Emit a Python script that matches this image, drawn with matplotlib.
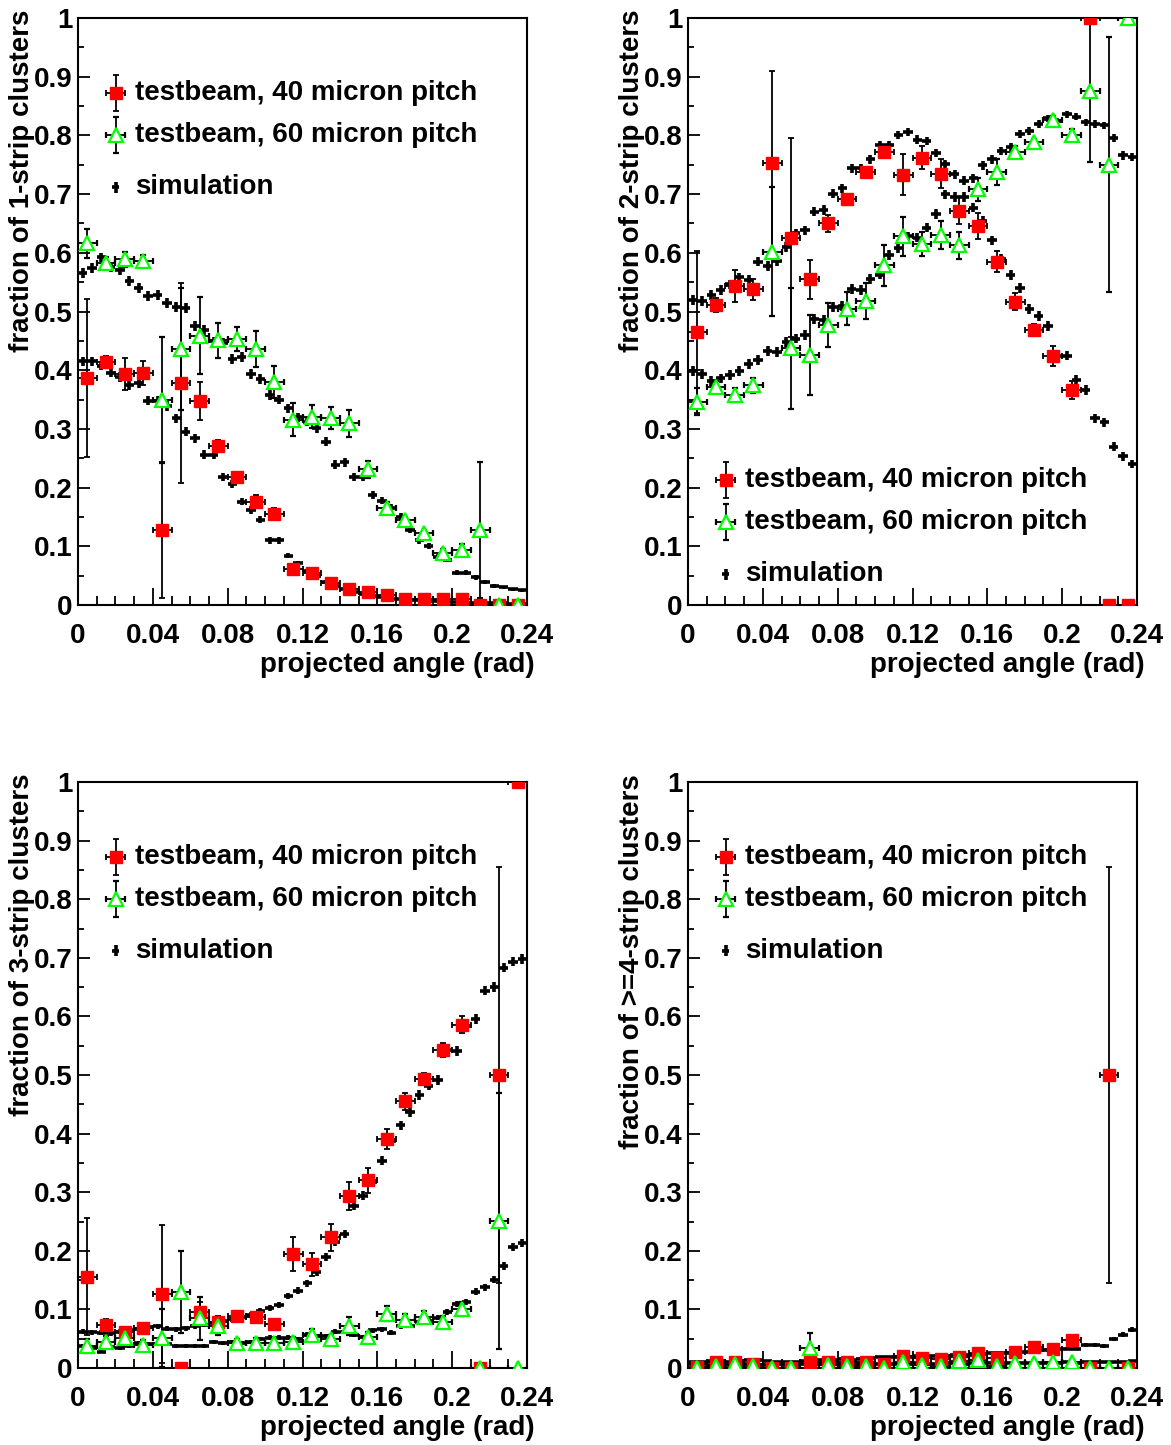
import numpy as np
import matplotlib
matplotlib.use("Agg")
import matplotlib.pyplot as plt
from matplotlib.ticker import FixedLocator, MultipleLocator

plt.rcParams['font.family'] = ['Liberation Sans', 'DejaVu Sans']
plt.rcParams['font.weight'] = 'bold'

# ---------------- data ----------------
TB_WIDTH = 0.01      # testbeam bin width (rad)
SIM_WIDTH = 0.005    # simulation bin width (rad)
tb_x = np.arange(24) * TB_WIDTH + TB_WIDTH / 2
sim_x = np.arange(48) * SIM_WIDTH + SIM_WIDTH / 2
SIM_EVENTS_PER_BIN = 3500

x_tick_values = [0, 0.04, 0.08, 0.12, 0.16, 0.20, 0.24]
x_tick_labels = ["0", "0.04", "0.08", "0.12", "0.16", "0.2", "0.24"]
y_tick_values = [0, 0.1, 0.2, 0.3, 0.4, 0.5, 0.6, 0.7, 0.8, 0.9, 1.0]
y_tick_labels = ["0", "0.1", "0.2", "0.3", "0.4", "0.5", "0.6", "0.7", "0.8", "0.9", "1"]

y_titles = ["fraction of 1-strip clusters", "fraction of 2-strip clusters",
            "fraction of 3-strip clusters", "fraction of >=4-strip clusters"]
x_title = "projected angle (rad)"
legend_labels = ["testbeam, 40 micron pitch", "testbeam, 60 micron pitch", "simulation"]

# 1-strip
tb40_1 = [0.387, 0.414, 0.393, 0.395, 0.128, 0.378, 0.348, 0.271, 0.218, 0.176, 0.155, 0.062,
          0.055, 0.037, 0.027, 0.022, 0.017, 0.010, 0.010, 0.010, 0.010, 0.0, 0.0, 0.0]
tb40_1_err = [0.135, 0.010, 0.027, 0.020, 0.116, 0.170, 0.032, 0.010, 0.006, 0.011, 0.011, 0.007,
              0.005, 0.004, 0.004, 0.003, 0.003, 0.002, 0.002, 0.002, 0.002, 0.0, 0.0, 0.0]
tb60_1 = [0.616, 0.582, 0.589, 0.586, 0.349, 0.436, 0.459, 0.451, 0.453, 0.436, 0.380, 0.316,
          0.321, 0.318, 0.310, 0.231, 0.166, 0.144, 0.122, 0.088, 0.094, 0.128, 0.0, 0.0]
tb60_1_err = [0.025, 0.010, 0.013, 0.010, 0.107, 0.104, 0.065, 0.030, 0.020, 0.031, 0.028, 0.028,
              0.019, 0.019, 0.023, 0.015, 0.010, 0.006, 0.005, 0.008, 0.010, 0.116, 0.0, 0.0]
sim40_1 = [0.415, 0.415, 0.408, 0.396, 0.388, 0.375, 0.378, 0.348, 0.348, 0.339, 0.318, 0.295,
           0.284, 0.256, 0.256, 0.218, 0.206, 0.176, 0.162, 0.145, 0.110, 0.110, 0.084, 0.071,
           0.058, 0.050, 0.040, 0.033, 0.027, 0.022, 0.018, 0.015, 0.013, 0.011, 0.010, 0.009,
           0.008, 0.007, 0.006, 0.005, 0.005, 0.004, 0.004, 0.003, 0.003, 0.003, 0.002, 0.002]
sim60_1 = [0.565, 0.574, 0.592, 0.576, 0.570, 0.552, 0.540, 0.526, 0.528, 0.514, 0.508, 0.506,
           0.475, 0.469, 0.449, 0.446, 0.419, 0.423, 0.394, 0.385, 0.358, 0.350, 0.335, 0.320,
           0.312, 0.301, 0.278, 0.239, 0.243, 0.218, 0.218, 0.187, 0.178, 0.165, 0.150, 0.128,
           0.110, 0.101, 0.082, 0.077, 0.055, 0.055, 0.047, 0.039, 0.032, 0.030, 0.027, 0.025]

# 2-strip
tb40_2 = [0.465, 0.511, 0.544, 0.538, 0.753, 0.626, 0.555, 0.650, 0.692, 0.737, 0.772, 0.733,
          0.762, 0.735, 0.672, 0.646, 0.585, 0.517, 0.469, 0.424, 0.366, 1.0, 0.0, 0.0]
tb40_2_err = [0.138, 0.012, 0.027, 0.018, 0.156, 0.170, 0.033, 0.015, 0.008, 0.010, 0.010, 0.035,
              0.020, 0.025, 0.023, 0.022, 0.018, 0.015, 0.010, 0.017, 0.015, 0.0, 0.0, 0.0]
tb60_2 = [0.346, 0.372, 0.357, 0.374, 0.602, 0.437, 0.426, 0.477, 0.505, 0.518, 0.579, 0.628,
          0.615, 0.631, 0.613, 0.708, 0.737, 0.772, 0.788, 0.827, 0.801, 0.875, 0.750, 1.0]
tb60_2_err = [0.023, 0.010, 0.012, 0.012, 0.110, 0.103, 0.068, 0.037, 0.028, 0.030, 0.035, 0.033,
              0.020, 0.024, 0.023, 0.020, 0.022, 0.010, 0.006, 0.006, 0.010, 0.120, 0.217, 0.0]
sim40_2 = [0.520, 0.518, 0.528, 0.537, 0.546, 0.558, 0.554, 0.585, 0.578, 0.586, 0.610, 0.633,
           0.638, 0.670, 0.673, 0.701, 0.710, 0.744, 0.744, 0.759, 0.784, 0.784, 0.800, 0.806,
           0.793, 0.790, 0.770, 0.751, 0.734, 0.723, 0.677, 0.655, 0.621, 0.589, 0.562, 0.540,
           0.505, 0.492, 0.475, 0.425, 0.425, 0.383, 0.366, 0.318, 0.311, 0.270, 0.253, 0.240]
sim60_2 = [0.399, 0.393, 0.382, 0.386, 0.392, 0.399, 0.410, 0.417, 0.433, 0.431, 0.448, 0.454,
           0.460, 0.488, 0.486, 0.508, 0.509, 0.538, 0.537, 0.555, 0.563, 0.596, 0.608, 0.628,
           0.626, 0.643, 0.666, 0.700, 0.695, 0.695, 0.727, 0.749, 0.759, 0.773, 0.780, 0.802,
           0.808, 0.819, 0.829, 0.824, 0.836, 0.832, 0.822, 0.819, 0.817, 0.795, 0.766, 0.763]

# 3-strip
tb40_3 = [0.156, 0.073, 0.062, 0.069, 0.126, 0.0, 0.095, 0.078, 0.088, 0.087, 0.075, 0.194,
          0.177, 0.223, 0.294, 0.320, 0.391, 0.455, 0.493, 0.542, 0.586, 0.0, 0.5, 1.0]
tb40_3_err = [0.100, 0.010, 0.008, 0.006, 0.118, 0.0, 0.018, 0.010, 0.005, 0.005, 0.008, 0.029,
              0.020, 0.023, 0.024, 0.021, 0.017, 0.015, 0.010, 0.012, 0.015, 0.0, 0.355, 0.0]
tb60_3 = [0.038, 0.045, 0.052, 0.040, 0.051, 0.130, 0.085, 0.072, 0.042, 0.043, 0.043, 0.045,
          0.057, 0.049, 0.072, 0.053, 0.093, 0.082, 0.087, 0.078, 0.100, 0.0, 0.251, 0.0]
tb60_3_err = [0.012, 0.010, 0.015, 0.008, 0.050, 0.070, 0.037, 0.015, 0.008, 0.008, 0.008, 0.008,
              0.010, 0.008, 0.015, 0.008, 0.012, 0.010, 0.010, 0.010, 0.012, 0.0, 0.218, 0.0]
sim40_3 = [0.062, 0.061, 0.060, 0.059, 0.062, 0.064, 0.066, 0.070, 0.071, 0.067, 0.066, 0.068,
           0.071, 0.074, 0.077, 0.080, 0.083, 0.087, 0.090, 0.098, 0.103, 0.108, 0.123, 0.132,
           0.145, 0.164, 0.189, 0.215, 0.229, 0.277, 0.294, 0.317, 0.354, 0.387, 0.414, 0.437,
           0.466, 0.482, 0.491, 0.543, 0.541, 0.584, 0.596, 0.644, 0.650, 0.683, 0.693, 0.698]
sim60_3 = [0.038, 0.034, 0.028, 0.036, 0.034, 0.038, 0.042, 0.041, 0.041, 0.041, 0.038, 0.038,
           0.038, 0.037, 0.045, 0.043, 0.045, 0.042, 0.045, 0.049, 0.052, 0.052, 0.052, 0.049,
           0.057, 0.055, 0.055, 0.062, 0.062, 0.057, 0.053, 0.064, 0.066, 0.060, 0.071, 0.072,
           0.078, 0.080, 0.086, 0.095, 0.109, 0.113, 0.130, 0.138, 0.151, 0.174, 0.207, 0.213]

# >=4-strip
tb40_4 = [0.002, 0.011, 0.011, 0.006, 0.0, 0.0, 0.010, 0.011, 0.011, 0.011, 0.007, 0.021,
          0.017, 0.015, 0.019, 0.025, 0.017, 0.028, 0.035, 0.032, 0.047, 0.0, 0.5, 0.0]
tb40_4_err = [0.003, 0.004, 0.004, 0.003, 0.0, 0.0, 0.005, 0.004, 0.004, 0.004, 0.003, 0.006,
              0.005, 0.004, 0.005, 0.005, 0.004, 0.005, 0.006, 0.006, 0.008, 0.0, 0.355, 0.0]
tb60_4 = [0.0, 0.003, 0.007, 0.003, 0.0, 0.0, 0.034, 0.005, 0.004, 0.004, 0.0, 0.010,
          0.005, 0.003, 0.012, 0.014, 0.003, 0.008, 0.009, 0.010, 0.010, 0.0, 0.0, 0.0]
tb60_4_err = [0.0, 0.003, 0.004, 0.003, 0.0, 0.0, 0.025, 0.004, 0.003, 0.003, 0.0, 0.004,
              0.003, 0.002, 0.004, 0.004, 0.002, 0.003, 0.003, 0.004, 0.004, 0.0, 0.0, 0.0]
sim40_4 = [0.010, 0.011, 0.012, 0.012, 0.011, 0.012, 0.013, 0.013, 0.012, 0.011, 0.010, 0.011,
           0.012, 0.013, 0.013, 0.014, 0.015, 0.014, 0.016, 0.017, 0.018, 0.018, 0.019, 0.019,
           0.020, 0.020, 0.021, 0.021, 0.022, 0.022, 0.023, 0.024, 0.025, 0.025, 0.026, 0.027,
           0.028, 0.030, 0.031, 0.032, 0.033, 0.033, 0.039, 0.039, 0.038, 0.049, 0.057, 0.065]
sim60_4 = [0.006, 0.006, 0.005, 0.006, 0.005, 0.005, 0.006, 0.005, 0.005, 0.006, 0.005, 0.005,
           0.006, 0.006, 0.006, 0.007, 0.006, 0.006, 0.007, 0.007, 0.006, 0.007, 0.007, 0.007,
           0.008, 0.007, 0.007, 0.008, 0.008, 0.007, 0.008, 0.008, 0.008, 0.009, 0.008, 0.008,
           0.009, 0.009, 0.009, 0.009, 0.010, 0.009, 0.010, 0.010, 0.010, 0.011, 0.011, 0.012]

panels = [
    (tb40_1, tb40_1_err, tb60_1, tb60_1_err, sim40_1, sim60_1),
    (tb40_2, tb40_2_err, tb60_2, tb60_2_err, sim40_2, sim60_2),
    (tb40_3, tb40_3_err, tb60_3, tb60_3_err, sim40_3, sim60_3),
    (tb40_4, tb40_4_err, tb60_4, tb60_4_err, sim40_4, sim60_4),
]

# ---------------- layout ----------------
W, H = 1171, 1445
frames = [(78, 18, 527, 605), (688, 18, 1137, 605), (78, 782, 527, 1368), (688, 782, 1137, 1368)]
legend_y = [(0.872, 0.801, 0.712), (0.213, 0.1414, 0.0528),
            (0.872, 0.800, 0.712), (0.872, 0.800, 0.712)]

RED = '#ff0000'
GREEN = '#00ff00'
FS = 20

fig = plt.figure(figsize=(W / 100, H / 100), dpi=100)


def sim_err(vals):
    p = np.asarray(vals)
    return np.sqrt(p * (1 - p) / SIM_EVENTS_PER_BIN)


def draw_tb(ax, x, vals, errs, style, xerr=TB_WIDTH / 2, **kw):
    if style == 'red':
        ax.errorbar(x, vals, xerr=xerr, yerr=errs, fmt='s', ms=9, mfc=RED, mec=RED,
                    ecolor='black', elinewidth=1.3, capsize=2, capthick=1.3, zorder=4, **kw)
    else:
        ax.errorbar(x, vals, xerr=xerr, yerr=errs, fmt='^', ms=10, mfc='white', mec=GREEN,
                    mew=1.6, ecolor='black', elinewidth=1.3, capsize=2, capthick=1.3, zorder=4, **kw)


for i, (frame, data, ly, ytitle) in enumerate(zip(frames, panels, legend_y, y_titles)):
    l, t, r, b = frame
    pw, ph = r - l, b - t
    ax = fig.add_axes([l / W, 1 - b / H, pw / W, ph / H])
    t40, t40e, t60, t60e, s40, s60 = data

    for s in (s40, s60):
        ax.errorbar(sim_x, s, xerr=SIM_WIDTH / 2, yerr=sim_err(s), fmt='none', ecolor='black',
                    elinewidth=2.6, capsize=0, zorder=3)
    draw_tb(ax, tb_x, t40, t40e, 'red')
    draw_tb(ax, tb_x, t60, t60e, 'green')

    # legend (ROOT-style)
    mx, tx = 0.0846, 0.127
    draw_tb(ax, [mx], [ly[0]], [[0.031], [0.031]], 'red', xerr=9.5 / pw,
            transform=ax.transAxes, clip_on=False)
    draw_tb(ax, [mx], [ly[1]], [[0.031], [0.031]], 'green', xerr=9.5 / pw,
            transform=ax.transAxes, clip_on=False)
    ax.errorbar([mx], [ly[2]], xerr=3.5 / pw, yerr=5.5 / ph, fmt='none', ecolor='black',
                elinewidth=2.6, capsize=0, transform=ax.transAxes)
    for yy, lab in zip(ly, legend_labels):
        ax.text(tx, yy, lab, transform=ax.transAxes, fontsize=FS, fontweight='bold',
                va='center', ha='left')

    ax.set_xlim(0, 0.24)
    ax.set_ylim(0, 1)
    ax.xaxis.set_major_locator(FixedLocator(x_tick_values))
    ax.set_xticklabels(x_tick_labels)
    ax.xaxis.set_minor_locator(MultipleLocator(0.01))
    ax.yaxis.set_major_locator(FixedLocator(y_tick_values))
    ax.set_yticklabels(y_tick_labels)
    ax.yaxis.set_minor_locator(MultipleLocator(0.05))
    ax.tick_params(axis='both', which='both', direction='in', top=False, right=False,
                   labelsize=FS, width=1.3)
    ax.tick_params(axis='x', which='major', length=12, pad=13)
    ax.tick_params(axis='x', which='minor', length=6.5)
    ax.tick_params(axis='y', which='major', length=8.6, pad=4)
    ax.tick_params(axis='y', which='minor', length=4.3)
    for lab in ax.get_xticklabels() + ax.get_yticklabels():
        lab.set_fontweight('bold')
    for sp in ax.spines.values():
        sp.set_linewidth(1.5)

    ax.text((22 - 78) / pw, 1 + 8 / ph, ytitle,
            transform=ax.transAxes, rotation=90, ha='center', va='top',
            fontsize=FS, fontweight='bold')
    ax.text((535 - 78) / pw, -60 / ph, x_title, transform=ax.transAxes, ha='right', va='center',
            fontsize=FS, fontweight='bold')

fig.savefig('out.png', dpi=100)
